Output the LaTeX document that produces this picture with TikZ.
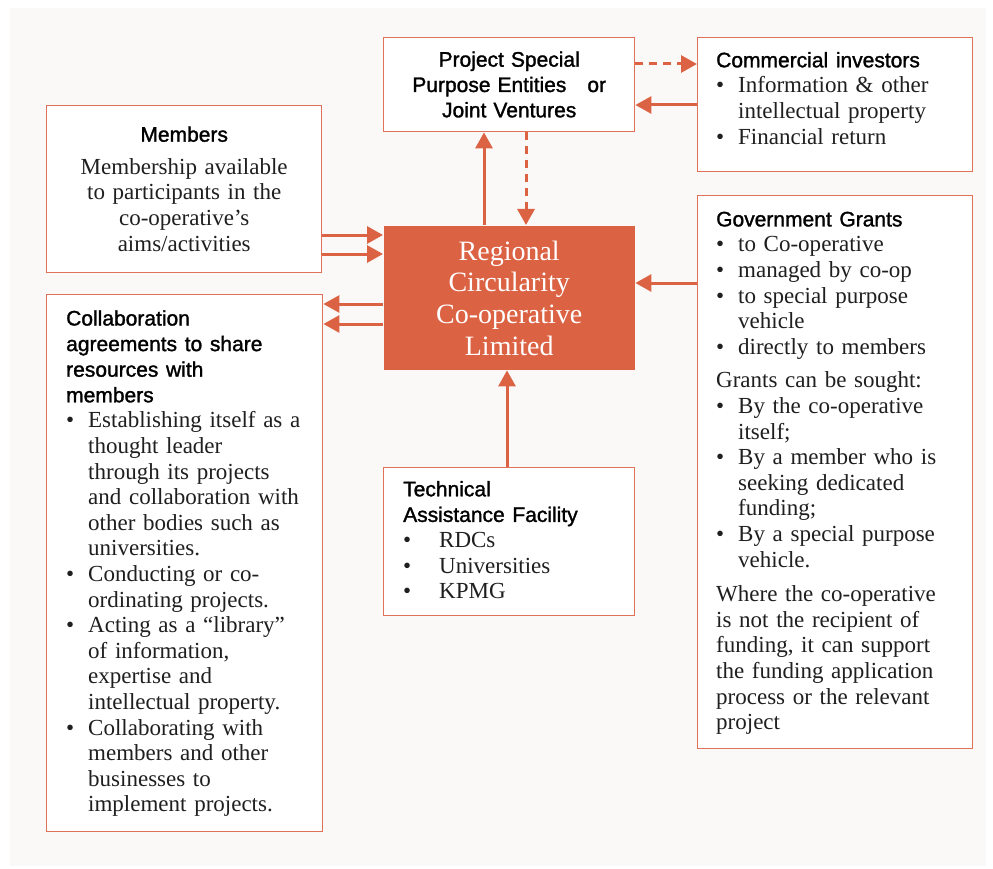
\documentclass[tikz,border=0pt]{standalone}
\usepackage{fontspec}
\setmainfont{Liberation Serif}
\setsansfont{Liberation Sans}
\newfontfamily\hdfont{Liberation Sans}[FakeBold=1.4]
\usetikzlibrary{positioning,arrows.meta}
\definecolor{rcred}{HTML}{DC6244}
\definecolor{paper}{HTML}{FAF9F7}
\newcommand{\hd}[1]{{\color{black}\hdfont\fontsize{21}{25.6}\selectfont #1}}
\newcommand{\itm}[2][22pt]{% bullet item with hanging indent
	\par\hangindent=#1\hangafter=1\noindent\makebox[#1][l]{\textbullet}#2\par}

\begin{document}
\begin{tikzpicture}[x=1pt, y=-1pt, >={Triangle[length=16pt,width=17pt]},
	box/.style={draw=rcred!90, line width=1.4pt, fill=white, anchor=north west, inner sep=0pt},
	arr/.style={->, draw=rcred, line width=3pt},
	darr/.style={arr, dash pattern=on 8pt off 6pt},
	txt/.style={anchor=base west, inner sep=0pt, text width=#1, text=black!88,
		font=\fontsize{23}{25.6}\selectfont}]
	\useasboundingbox (0,0) rectangle (993,869);
	\fill[paper] (10,8) rectangle (986,866);
	
	%--- boxes (top left corner, size in px) ---
	\node[box, minimum width=275pt, minimum height=167pt] (mem) at (46,105) {};
	\node[box, minimum width=276pt, minimum height=537pt] (col) at (46,294) {};
	\node[box, minimum width=251pt, minimum height=94pt] (spe) at (383,37) {};
	\node[box, minimum width=275pt, minimum height=134pt] (com) at (697,37) {};
	\node[box, minimum width=275pt, minimum height=553pt] (gov) at (697,195) {};
	\node[box, minimum width=251pt, minimum height=148pt] (tec) at (383,467) {};
	\node[box, draw=none, fill=rcred, minimum width=251pt, minimum height=144pt] (core) at (383,225) {};
	
	%--- texts ---
	\node[txt=251pt, anchor=base, align=center, text=white, font=\fontsize{28}{31.7}\selectfont]
		(coretxt) at ([shift={(0,35)}]core.north) {Regional\\ Circularity\\ Co-operative\\ Limited};
	\node[txt=251pt, anchor=base, align=center, text=black, font=\hdfont\fontsize{21}{25.3}\selectfont]
		(spetxt) at ([shift={(0,29.7)}]spe.north) {Project Special\\ Purpose Entities\hspace{14pt} or\\ Joint Ventures};
	\node[txt=275pt, anchor=base, align=center] (memtxt) at ([shift={(0,36.7)}]mem.north)
		{\hd{Members}\\[7pt] Membership available\\ to participants in the\\ co-operative's\\ aims/activities};
	% Collaboration agreements
	\node[txt=250pt] (coltxt) at ([shift={(20,31.5)}]col.north west) {%
		\hd{Collaboration\newline agreements to share\newline resources with\newline members}\par
		\itm{Establishing itself as a\newline thought leader\newline through its projects\newline and collaboration with\newline other bodies such as\newline universities.}
		\itm{Conducting or co-\newline ordinating projects.}
		\itm{Acting as a ``library''\newline of information,\newline expertise and\newline intellectual property.}
		\itm{Collaborating with\newline members and other\newline businesses to\newline implement projects.}};
	% Commercial investors
	\node[txt=250pt] (comtxt) at ([shift={(19,30.3)}]com.north west) {%
		\hd{Commercial investors}\par
		\itm{Information \& other\newline intellectual property}
		\itm{Financial return}};
	% Government Grants
	\node[txt=250pt] (govtxt) at ([shift={(19,31.4)}]gov.north west) {%
		\hd{Government Grants}\par
		\itm{to Co-operative}
		\itm{managed by co-op}
		\itm{to special purpose\newline vehicle}
		\itm{directly to members}
		\vspace{8pt}
		Grants can be sought:\par
		\itm{By the co-operative\newline itself;}
		\itm{By a member who is\newline seeking dedicated\newline funding;}
		\itm{By a special purpose\newline vehicle.}
		\vspace{9pt}
		Where the co-operative\newline is not the recipient of\newline funding, it can support\newline the funding application\newline process or the relevant\newline project\par};
	% Technical Assistance Facility
	\node[txt=230pt] (tectxt) at ([shift={(20,29.3)}]tec.north west) {%
		\hd{Technical\newline Assistance Facility}\par
		\itm[36pt]{RDCs}
		\itm[36pt]{Universities}
		\itm[36pt]{KPMG}};
	
	%--- connectors ---
	\foreach \y in {235,254}{% members -> co-operative
		\draw[arr] (mem.east |- 0,\y) -- (core.west |- 0,\y);}
	\foreach \y in {304,324}{% co-operative -> collaboration
		\draw[arr] (core.west |- 0,\y) -- (col.east |- 0,\y);}
	\draw[arr] (gov.west |- 0,283) -- (core.east |- 0,283);
	\draw[arr] (tec.north -| 507,0) -- (core.south -| 507,0);
	\draw[arr] (core.north -| 484,0) -- (spe.south -| 484,0);
	\draw[darr] (spe.south -| 526,0) -- (core.north -| 526,0);
	\draw[darr] (spe.east |- 0,64) -- (com.west |- 0,64);
	\draw[arr] (com.west |- 0,105) -- (spe.east |- 0,105);
\end{tikzpicture}
\end{document}
